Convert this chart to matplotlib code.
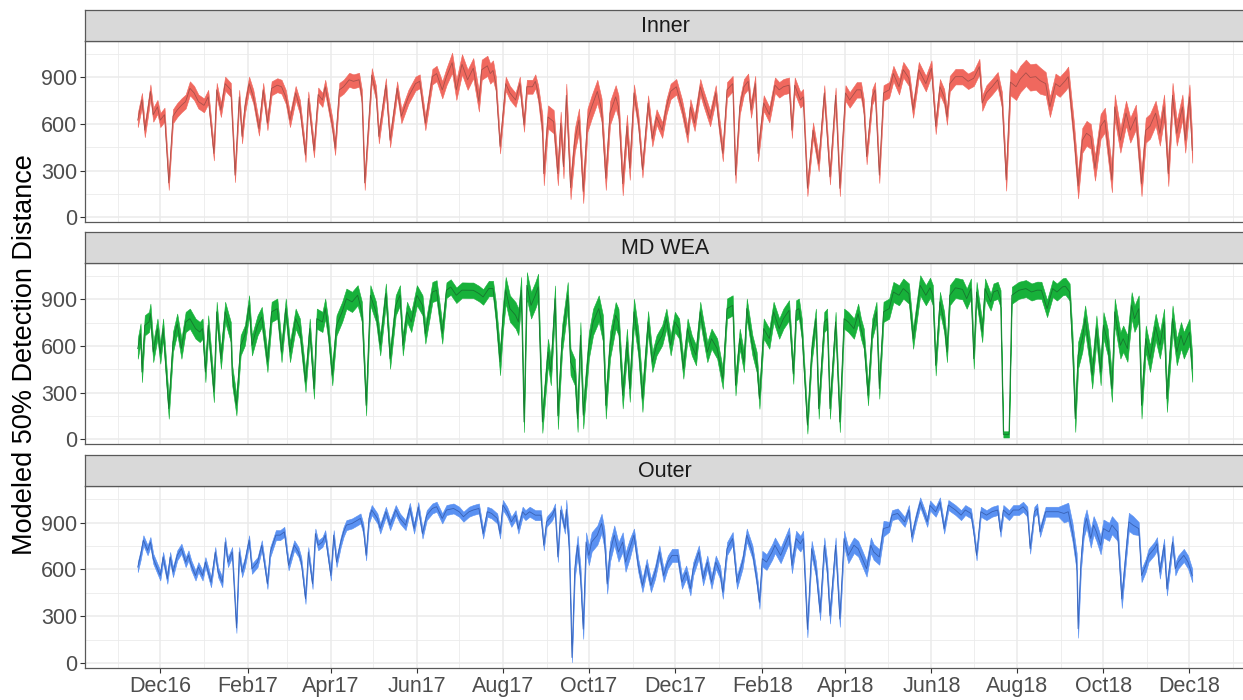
import numpy as np
import matplotlib
matplotlib.use("Agg")
import matplotlib.pyplot as plt
import matplotlib.dates as mdates

plt.rcParams['font.family'] = ['Liberation Sans', 'DejaVu Sans']

# day offsets are counted from 1 Dec 2016
start = np.datetime64('2016-12-01')

inner_day = [
    -16, -13, -11, -9, -7, -5, -2, 0, 3, 6,
    9, 12, 15, 18, 21, 24, 27, 31, 34, 38,
    40, 43, 46, 50, 53, 56, 58, 60, 63, 66,
    70, 73, 76, 79, 83, 86, 89, 92, 96, 99,
    103, 105, 109, 112, 115, 117, 122, 124, 127, 130,
    134, 137, 141, 143, 145, 150, 153, 155, 160, 163,
    168, 171, 176, 181, 184, 188, 193, 196, 200, 203,
    207, 210, 214, 218, 222, 226, 228, 232, 234, 236,
    238, 241, 245, 248, 252, 255, 258, 260, 264, 266,
    268, 271, 272, 275, 279, 282, 284, 286, 288, 291,
    294, 297, 300, 303, 306, 310, 313, 316, 319, 323,
    325, 328, 331, 333, 336, 339, 342, 346, 349, 352,
    356, 359, 362, 366, 370, 374, 376, 379, 383, 385,
    390, 394, 396, 399, 402, 406, 408, 411, 414, 417,
    419, 422, 424, 428, 432, 436, 439, 442, 446, 448,
    450, 454, 456, 459, 463, 467, 471, 475, 479, 482,
    486, 489, 494, 497, 499, 501, 505, 507, 510, 513,
    517, 520, 524, 527, 531, 534, 538, 543, 547, 550,
    553, 556, 558, 560, 564, 569, 573, 577, 581, 583,
    586, 590, 594, 597, 600, 603, 607, 610, 614, 617,
    621, 624, 628, 631, 635, 638, 642, 644, 648, 651,
    654, 657, 660, 663, 667, 670, 675, 677, 681, 685,
    688, 692, 696, 699, 702, 706, 709, 712, 715, 718,
    721, 725, 727, 730, 732,
]
inner_value = [
    625, 755, 560, 680, 810, 660, 710, 625, 660, 220,
    650, 690, 720, 745, 830, 800, 745, 720, 775, 410,
    820, 690, 860, 820, 270, 775, 520, 710, 860, 775,
    570, 820, 605, 830, 850, 840, 775, 625, 800, 710,
    400, 765, 430, 790, 755, 840, 595, 445, 820, 840,
    885, 875, 885, 775, 220, 915, 800, 520, 850, 495,
    830, 650, 775, 860, 875, 605, 905, 925, 820, 905,
    995, 820, 985, 885, 960, 745, 950, 975, 925, 945,
    860, 455, 860, 800, 755, 860, 595, 840, 840, 875,
    800, 585, 280, 645, 615, 280, 605, 325, 785, 190,
    495, 625, 165, 625, 710, 810, 690, 250, 670, 775,
    710, 215, 585, 315, 800, 625, 305, 735, 505, 645,
    560, 710, 810, 840, 710, 530, 710, 605, 840, 775,
    635, 800, 625, 410, 820, 860, 270, 710, 840, 875,
    690, 860, 410, 735, 660, 850, 820, 840, 850, 560,
    850, 755, 775, 185, 560, 345, 800, 260, 785, 185,
    800, 755, 820, 820, 710, 390, 775, 820, 270, 800,
    820, 925, 840, 950, 895, 690, 950, 860, 960, 585,
    840, 775, 645, 860, 905, 905, 875, 895, 970, 735,
    800, 840, 885, 755, 240, 870, 840, 890, 930, 900,
    905, 880, 860, 710, 860, 840, 880, 905, 540, 200,
    495, 540, 520, 315, 585, 625, 240, 710, 495, 670,
    560, 645, 215, 560, 585, 670, 540, 710, 280, 785,
    540, 710, 495, 775, 430,
]
inner_spread = [
    45, 45, 45, 45, 45, 45, 45, 45, 45, 45,
    45, 45, 45, 45, 45, 45, 45, 45, 45, 45,
    45, 45, 45, 45, 45, 45, 45, 45, 45, 45,
    45, 45, 45, 45, 45, 45, 45, 45, 45, 45,
    45, 45, 45, 45, 45, 45, 45, 45, 45, 45,
    45, 45, 45, 45, 45, 45, 45, 45, 45, 45,
    45, 45, 45, 45, 45, 45, 50, 50, 55, 55,
    65, 65, 65, 65, 65, 65, 65, 65, 65, 65,
    45, 45, 45, 45, 45, 45, 45, 45, 45, 45,
    50, 75, 75, 75, 75, 75, 75, 75, 75, 75,
    75, 75, 75, 75, 75, 75, 75, 75, 75, 75,
    75, 75, 75, 75, 55, 50, 50, 50, 50, 50,
    50, 50, 50, 50, 50, 50, 50, 50, 50, 50,
    50, 50, 50, 50, 50, 50, 50, 50, 50, 50,
    50, 50, 50, 50, 50, 50, 50, 50, 50, 50,
    50, 50, 50, 50, 50, 50, 50, 50, 50, 50,
    50, 50, 50, 50, 50, 50, 50, 50, 50, 50,
    50, 50, 50, 50, 50, 50, 50, 50, 50, 50,
    50, 50, 50, 50, 50, 50, 50, 50, 50, 50,
    50, 50, 50, 50, 70, 85, 85, 85, 85, 85,
    85, 85, 75, 65, 65, 65, 65, 65, 75, 80,
    80, 80, 80, 80, 80, 80, 80, 80, 80, 80,
    80, 80, 80, 80, 80, 80, 80, 80, 80, 80,
    80, 80, 80, 80, 80,
]

wea_day = [
    -16, -14, -13, -11, -8, -7, -5, -2, 0, 2,
    6, 9, 12, 15, 18, 21, 25, 28, 30, 32,
    34, 38, 40, 43, 46, 50, 51, 54, 57, 60,
    63, 65, 69, 72, 76, 79, 83, 86, 89, 92,
    96, 99, 103, 106, 109, 111, 115, 117, 119, 122,
    125, 129, 132, 136, 140, 143, 146, 149, 153, 156,
    160, 163, 167, 170, 172, 175, 178, 182, 186, 188,
    193, 196, 200, 203, 206, 210, 214, 219, 222, 226,
    229, 233, 236, 238, 241, 243, 245, 248, 252, 254,
    256, 258, 260, 263, 266, 268, 271, 275, 277, 280,
    282, 285, 289, 291, 294, 296, 298, 300, 304, 307,
    311, 314, 316, 319, 323, 325, 328, 331, 333, 336,
    339, 342, 346, 349, 352, 356, 359, 362, 365, 368,
    371, 374, 377, 380, 383, 385, 388, 391, 395, 399,
    402, 406, 408, 411, 414, 416, 420, 423, 425, 428,
    432, 435, 439, 442, 446, 449, 451, 453, 455, 459,
    462, 465, 467, 471, 473, 475, 479, 482, 485, 488,
    492, 495, 497, 499, 502, 505, 508, 510, 513, 517,
    520, 524, 527, 531, 534, 539, 543, 546, 548, 550,
    553, 556, 558, 560, 564, 569, 572, 575, 577, 579,
    583, 585, 589, 591, 594, 596, 598, 602, 604, 609,
    614, 618, 622, 625, 629, 633, 636, 640, 642, 645,
    647, 649, 651, 654, 656, 659, 661, 664, 667, 669,
    672, 675, 677, 681, 683, 686, 689, 691, 694, 696,
    699, 702, 706, 709, 712, 714, 718, 721, 724, 726,
    730, 732,
]
wea_value = [
    583, 680, 432, 733, 755, 808, 561, 712, 551, 712,
    196, 626, 744, 583, 755, 776, 712, 690, 712, 432,
    733, 303, 820, 518, 820, 690, 411, 217, 604, 669,
    862, 604, 733, 787, 497, 820, 841, 561, 841, 561,
    776, 712, 368, 712, 325, 776, 755, 841, 712, 411,
    733, 820, 905, 884, 927, 820, 217, 927, 820, 604,
    938, 518, 862, 927, 604, 820, 755, 927, 862, 680,
    948, 959, 680, 960, 980, 927, 960, 959, 959, 938,
    916, 970, 970, 820, 497, 776, 960, 841, 798, 755,
    960, 110, 991, 862, 927, 981, 110, 561, 432, 905,
    150, 647, 927, 497, 432, 131, 669, 153, 604, 755,
    841, 712, 217, 604, 798, 755, 282, 626, 325, 820,
    626, 260, 755, 497, 604, 669, 776, 604, 755, 712,
    454, 712, 604, 540, 820, 712, 561, 647, 583, 389,
    841, 862, 346, 647, 497, 841, 604, 497, 260, 712,
    647, 820, 712, 776, 830, 421, 830, 841, 712, 90,
    561, 776, 196, 755, 776, 196, 755, 110, 776, 755,
    712, 808, 712, 647, 282, 712, 820, 325, 820, 841,
    948, 927, 970, 938, 647, 991, 927, 975, 927, 475,
    884, 755, 561, 927, 975, 965, 905, 970, 518, 948,
    690, 970, 884, 948, 959, 905, 30, 30, 927, 959,
    970, 948, 960, 959, 841, 970, 948, 981, 985, 948,
    604, 131, 540, 647, 776, 583, 411, 712, 432, 733,
    626, 325, 820, 604, 647, 583, 862, 776, 841, 217,
    647, 518, 723, 604, 755, 260, 776, 561, 669, 604,
    690, 454,
]
wea_spread = [
    65, 65, 65, 65, 65, 65, 65, 65, 65, 65,
    65, 65, 65, 65, 65, 65, 65, 65, 65, 65,
    65, 65, 65, 65, 65, 65, 65, 65, 65, 65,
    65, 65, 65, 65, 65, 65, 65, 65, 65, 65,
    65, 65, 65, 65, 65, 65, 65, 65, 65, 65,
    65, 65, 65, 65, 65, 65, 65, 65, 65, 65,
    65, 65, 65, 65, 65, 65, 65, 65, 65, 65,
    65, 65, 65, 50, 50, 50, 50, 50, 50, 50,
    50, 50, 50, 65, 85, 85, 85, 85, 85, 85,
    85, 65, 85, 85, 85, 85, 70, 85, 85, 85,
    85, 85, 85, 85, 85, 85, 85, 85, 85, 85,
    85, 85, 85, 85, 85, 85, 85, 85, 85, 85,
    85, 85, 70, 65, 65, 65, 65, 65, 65, 65,
    65, 65, 65, 65, 65, 65, 65, 65, 65, 65,
    65, 65, 65, 65, 65, 65, 65, 65, 65, 65,
    65, 65, 65, 65, 65, 65, 65, 65, 65, 55,
    65, 65, 65, 65, 65, 65, 65, 65, 65, 65,
    65, 65, 65, 65, 65, 65, 65, 65, 65, 65,
    65, 65, 65, 65, 65, 65, 65, 65, 65, 65,
    65, 65, 65, 65, 65, 65, 65, 65, 65, 65,
    65, 65, 55, 55, 55, 55, 20, 20, 55, 55,
    55, 55, 55, 55, 55, 55, 55, 55, 55, 55,
    85, 85, 85, 85, 85, 85, 85, 85, 85, 85,
    85, 85, 85, 85, 85, 85, 85, 85, 85, 85,
    85, 85, 85, 85, 85, 85, 85, 85, 85, 85,
    85, 85,
]

outer_day = [
    -16, -14, -12, -9, -7, -5, -2, 0, 2, 5,
    7, 9, 12, 15, 18, 20, 22, 25, 27, 30,
    32, 34, 36, 39, 41, 44, 46, 48, 51, 54,
    56, 58, 60, 63, 65, 69, 72, 76, 78, 82,
    85, 88, 91, 95, 98, 100, 103, 105, 108, 110,
    112, 115, 117, 121, 123, 125, 128, 130, 132, 136,
    140, 142, 144, 146, 148, 150, 154, 156, 160, 163,
    167, 170, 174, 177, 180, 183, 186, 189, 193, 196,
    200, 203, 208, 212, 215, 219, 222, 226, 229, 232,
    235, 239, 241, 243, 246, 249, 252, 254, 257, 259,
    262, 266, 270, 272, 274, 278, 280, 282, 284, 287,
    288, 290, 292, 294, 296, 298, 300, 302, 304, 306,
    310, 313, 315, 317, 319, 322, 325, 328, 330, 333,
    336, 339, 342, 345, 348, 351, 354, 357, 360, 363,
    367, 370, 373, 376, 378, 382, 385, 388, 391, 394,
    397, 399, 402, 406, 409, 413, 416, 420, 423, 425,
    427, 430, 434, 436, 440, 443, 446, 448, 451, 454,
    456, 459, 462, 465, 468, 471, 473, 475, 479, 482,
    485, 488, 492, 495, 498, 501, 504, 506, 510, 513,
    517, 519, 523, 526, 528, 531, 533, 536, 539, 541,
    544, 546, 550, 553, 556, 559, 564, 568, 571, 575,
    577, 579, 582, 586, 590, 594, 596, 598, 602, 605,
    609, 612, 615, 617, 620, 622, 624, 628, 633, 637,
    641, 644, 647, 650, 651, 653, 655, 657, 660, 662,
    664, 667, 669, 673, 675, 679, 682, 685, 687, 690,
    694, 696, 699, 701, 705, 707, 709, 712, 714, 718,
    720, 722, 726, 729, 732,
]
outer_value = [
    615, 690, 787, 723, 776, 669, 604, 561, 680, 540,
    680, 583, 690, 733, 647, 690, 626, 561, 615, 561,
    647, 583, 518, 712, 583, 518, 776, 647, 712, 225,
    712, 583, 647, 787, 604, 647, 755, 507, 712, 820,
    820, 841, 626, 755, 712, 647, 411, 712, 507, 830,
    755, 776, 820, 561, 820, 647, 776, 841, 884, 895,
    916, 927, 862, 690, 927, 981, 927, 862, 970, 884,
    981, 927, 884, 995, 862, 1000, 830, 948, 991, 1002,
    927, 981, 991, 970, 938, 970, 981, 991, 830, 970,
    959, 927, 830, 1013, 970, 905, 948, 862, 970, 948,
    970, 948, 948, 755, 905, 948, 991, 680, 980, 862,
    985, 755, 35, 604, 755, 561, 217, 776, 690, 776,
    820, 895, 798, 507, 712, 820, 712, 776, 647, 733,
    820, 626, 497, 626, 497, 583, 712, 561, 647, 690,
    690, 518, 583, 475, 604, 712, 540, 647, 518, 647,
    583, 454, 733, 798, 518, 647, 820, 712, 540, 389,
    669, 647, 712, 755, 690, 755, 820, 626, 798, 765,
    798, 215, 733, 604, 325, 755, 604, 303, 755, 282,
    798, 690, 755, 733, 669, 604, 755, 712, 680, 862,
    873, 948, 959, 927, 905, 981, 808, 927, 1030, 981,
    905, 1010, 970, 1030, 862, 1013, 981, 948, 981, 959,
    841, 690, 970, 948, 970, 981, 841, 981, 948, 981,
    981, 1002, 970, 733, 970, 991, 841, 970, 970, 970,
    959, 970, 841, 647, 220, 647, 862, 927, 798, 884,
    841, 755, 862, 841, 884, 841, 411, 712, 905, 884,
    862, 561, 626, 690, 733, 765, 583, 755, 475, 776,
    604, 647, 690, 647, 561,
]
outer_spread = [
    32, 32, 32, 32, 32, 32, 32, 32, 32, 32,
    32, 32, 32, 32, 32, 32, 32, 32, 32, 32,
    32, 32, 32, 32, 32, 32, 32, 32, 32, 32,
    32, 32, 32, 32, 32, 32, 32, 32, 32, 32,
    32, 32, 32, 32, 32, 32, 32, 32, 32, 32,
    32, 32, 32, 32, 32, 32, 32, 32, 32, 32,
    32, 32, 32, 32, 32, 32, 32, 32, 32, 32,
    32, 32, 32, 32, 32, 32, 32, 32, 32, 32,
    32, 32, 32, 32, 32, 32, 32, 32, 32, 32,
    32, 32, 32, 32, 32, 32, 32, 32, 32, 32,
    32, 32, 32, 32, 32, 32, 32, 32, 32, 32,
    62, 62, 30, 62, 62, 62, 62, 62, 62, 62,
    62, 62, 62, 62, 62, 62, 62, 62, 62, 62,
    42, 42, 42, 42, 42, 42, 42, 42, 42, 42,
    42, 42, 42, 42, 42, 42, 42, 42, 42, 42,
    42, 42, 42, 42, 42, 42, 42, 42, 42, 42,
    50, 50, 50, 50, 50, 50, 50, 50, 50, 50,
    50, 50, 50, 50, 50, 50, 50, 50, 50, 50,
    50, 50, 50, 50, 50, 50, 50, 50, 50, 50,
    32, 32, 32, 32, 32, 32, 32, 32, 32, 32,
    32, 32, 32, 32, 32, 32, 32, 32, 32, 32,
    32, 32, 32, 32, 32, 32, 32, 32, 32, 32,
    32, 32, 32, 32, 32, 32, 32, 32, 32, 32,
    58, 58, 58, 58, 58, 58, 58, 58, 58, 58,
    58, 58, 58, 58, 58, 58, 58, 58, 58, 58,
    42, 42, 42, 42, 42, 42, 42, 42, 42, 42,
    42, 42, 42, 42, 42,
]

facets = [
    ('Inner', inner_day, inner_value, inner_spread, '#F0685E', '#A9504A'),
    ('MD WEA', wea_day, wea_value, wea_spread, '#17B13A', '#16772F'),
    ('Outer', outer_day, outer_value, outer_spread, '#5A91F2', '#3862B5'),
]

W, H = 1243, 700
panel_rows = [(41, 222), (263, 444), (486, 668)]
strip_rows = [(10, 41), (232, 263), (455, 486)]
left_px, right_px = 85, 1245

fig = plt.figure(figsize=(W / 100, H / 100), dpi=100)
fig.patch.set_facecolor('white')

# shared x range: data span plus 5% either side
all_days = np.concatenate([np.asarray(f[1]) for f in facets])
t0 = mdates.date2num(start + np.timedelta64(int(all_days.min()), 'D'))
t1 = mdates.date2num(start + np.timedelta64(int(all_days.max()), 'D'))
pad = 0.05 * (t1 - t0)

grid_col = '#EBEBEB'
border_col = '#595959'

for i, (name, day, value, spread, fill_col, line_col) in enumerate(facets):
    top, bottom = panel_rows[i]
    ax = fig.add_axes([left_px / W, 1 - bottom / H,
                       (right_px - left_px) / W, (bottom - top) / H])
    dates = start + np.asarray(day).astype('timedelta64[D]')
    v = np.asarray(value, dtype=float)
    s = np.asarray(spread, dtype=float)
    ax.fill_between(dates, v - s, v + s, color=fill_col, lw=0.4,
                    edgecolor=fill_col, zorder=2)
    ax.plot(dates, v, color=line_col, lw=0.6, zorder=3)

    ax.set_xlim(t0 - pad, t1 + pad)
    ax.set_ylim(-32, 1135)
    ax.set_yticks([0, 300, 600, 900])
    ax.set_yticks([150, 450, 750, 1050], minor=True)
    ax.xaxis.set_major_locator(mdates.MonthLocator(bymonth=[2, 4, 6, 8, 10, 12]))
    ax.xaxis.set_minor_locator(mdates.MonthLocator(bymonth=[1, 3, 5, 7, 9, 11]))
    ax.xaxis.set_major_formatter(mdates.DateFormatter('%b%y'))

    ax.grid(which='major', color=grid_col, lw=1.1, zorder=0)
    ax.grid(which='minor', color=grid_col, lw=0.6, zorder=0)
    ax.set_axisbelow(True)
    for sp in ax.spines.values():
        sp.set_color(border_col)
        sp.set_linewidth(0.9)

    ax.tick_params(axis='y', which='major', length=3.6, width=0.8,
                   color='#333333', labelsize=15.5, labelcolor='#4D4D4D', pad=2)
    ax.tick_params(which='minor', length=0)
    if i < 2:
        ax.tick_params(axis='x', which='major', length=0, labelbottom=False)
    else:
        ax.tick_params(axis='x', which='major', length=3.6, width=0.8,
                       color='#333333', labelsize=15.5, labelcolor='#4D4D4D', pad=2)

    # facet strip
    s_top, s_bottom = strip_rows[i]
    sax = fig.add_axes([left_px / W, 1 - s_bottom / H,
                        (right_px - left_px) / W, (s_bottom - s_top) / H])
    sax.set_facecolor('#D9D9D9')
    sax.set_xticks([])
    sax.set_yticks([])
    for sp in sax.spines.values():
        sp.set_color(border_col)
        sp.set_linewidth(0.9)
    sax.text(0.5, 0.48, name, transform=sax.transAxes, ha='center', va='center',
             fontsize=15.5, color='#1A1A1A')

fig.text(25 / W, 1 - 355 / H, 'Modeled 50% Detection Distance', rotation=90,
         ha='center', va='center', fontsize=19.5, color='black')

fig.savefig('out.png', dpi=100, facecolor='white')
